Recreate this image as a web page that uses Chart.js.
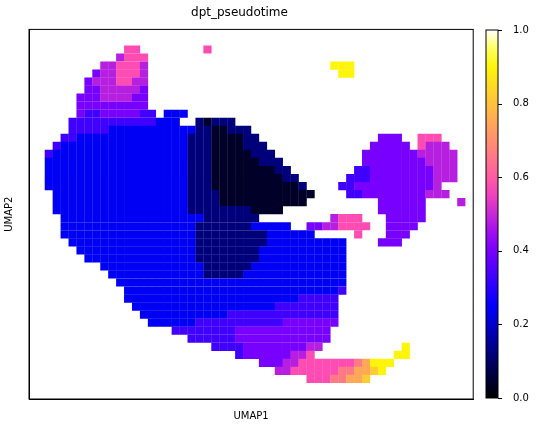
<!DOCTYPE html>
<html>
<head>
<meta charset="utf-8">
<script src="https://cdn.jsdelivr.net/npm/chart.js@4"></script>
<style>
  body { margin: 0; background: #fff; }
  #main { position: absolute; left: 0; top: 0; width: 479px; height: 429px; }
  #bar { position: absolute; left: 476px; top: 0; width: 64px; height: 429px; }
</style>
</head>
<body>
<div id="main"><canvas id="umap"></canvas></div>
<div id="bar"><canvas id="cbar"></canvas></div>
<script>
// Each row: [startColumn, string of pseudotime codes]
const gridCols = 56;
const gridRows = 46;
const codeValues = { '0': 0.04, '1': 0.12, '2': 0.24, '3': 0.33, '4': 0.40, '5': 0.48,
                     '6': 0.57, '7': 0.66, '8': 0.75, '9': 0.82, 'Y': 0.90 };
const rowSegments = [
  [], [],
  [[12, "66"], [22, "6"]],
  [[11, "5666"]],
  [[9, "556665"], [38, "YYY"]],
  [[8, "4556665"], [39, "YY"]],
  [[7, "45556655"]],
  [[7, "44555554"]],
  [[6, "444555544"]],
  [[6, "444444444"]],
  [[6, "4334444433"], [17, "222"]],
  [[5, "33333333333"], [16, "222"], [21, "10111"]],
  [[5, "3333322222222222"], [21, "1100111"]],
  [[4, "3322222222222222"], [20, "111000011"], [44, "444"], [49, "666"]],
  [[3, "32222222222222222"], [20, "1110000111"], [43, "44444"], [49, "6555"]],
  [[2, "322222222222222222"], [20, "11100000111"], [42, "4444444"], [49, "55555"]],
  [[2, "222222222222222222"], [20, "111000000111"], [42, "44444444"], [50, "5555"]],
  [[2, "222222222222222222"], [20, "1110000000011"], [41, "3344444444"], [51, "555"]],
  [[2, "222222222222222222"], [20, "11100000000011"], [40, "333444444"], [49, "44555"]],
  [[2, "222222222222222222"], [20, "111000000000001"], [39, "33444444"], [47, "44445"]],
  [[3, "22222222222222222"], [20, "1111000000000000"], [40, "33"], [42, "44444444555"]],
  [[3, "2222222222222222"], [19, "2111100000000000"], [44, "444444"], [54, "5"]],
  [[3, "22222222222222222"], [20, "111111110000"], [44, "444444"]],
  [[4, "222222222222222222"], [22, "1111111"], [38, "5666"], [45, "44444"]],
  [[4, "22222222222222222111111122222"], [35, "44556666"], [45, "4444"]],
  [[4, "22222222222222222111111111222222"], [41, "6"], [45, "444"]],
  [[5, "22222222222222221111111112222222222"], [44, "444"]],
  [[6, "2222222222222221111111122222222222"]],
  [[7, "222222222222221111111122222222222"]],
  [[9, "2222222222222111111222222222222"]],
  [[10, "222222222222111112222222222222"]],
  [[11, "22222222222222222222222222222"]],
  [[12, "2222222222222222222222222223"]],
  [[12, "222222222222222222222233333"]],
  [[13, "22222222222222222233333333"]],
  [[14, "2222222222233333333333333"]],
  [[15, "222222333333333334444444"]],
  [[18, "33333333444444444444"]],
  [[20, "333333444444444444"]],
  [[23, "33334444444455"], [47, "Y"]],
  [[26, "3444444556"], [46, "YY"]],
  [[29, "44455666666678YYY"]],
  [[31, "5566666677889Y"]],
  [[35, "66677889"]],
  [], []
];
const colorTicks = [0.0, 0.2, 0.4, 0.6, 0.8, 1.0];

// matplotlib gnuplot2 colormap
function gnuplot2(v) {
  const clip = t => Math.max(0, Math.min(1, t));
  const r = clip(v / 0.32 - 0.78125);
  const g = clip(2 * v - 0.84);
  const b = clip(v < 0.25 ? 4 * v : (v < 0.92 ? -2 * v + 1.84 : v / 0.08 - 11.5));
  return `rgb(${Math.round(r * 255)},${Math.round(g * 255)},${Math.round(b * 255)})`;
}

const points = [];
const colors = [];
rowSegments.forEach((segs, row) => {
  segs.forEach(([start, codes]) => {
    [...codes].forEach((ch, i) => {
      if (!(ch in codeValues)) return;
      points.push({ x: start + i + 0.5, y: row + 0.5 });
      colors.push(gnuplot2(codeValues[ch]));
    });
  });
});

const font = { family: 'DejaVu Sans', size: 10 };

new Chart(document.getElementById('umap'), {
  type: 'scatter',
  data: {
    datasets: [{
      data: points,
      pointBackgroundColor: colors,
      pointBorderWidth: 0,
      pointStyle: 'rect',
      pointRadius: 5.8,
      pointHoverRadius: 5.8
    }]
  },
  options: {
    responsive: true,
    maintainAspectRatio: false,
    animation: false,
    layout: { padding: { left: 0, right: 0, top: 0, bottom: 0 } },
    plugins: {
      legend: { display: false },
      tooltip: { enabled: false },
      title: {
        display: true, text: 'dpt_pseudotime', color: '#000',
        font: { family: 'DejaVu Sans', size: 12, weight: 'normal' },
        padding: { top: 6, bottom: 9 }
      }
    },
    scales: {
      x: {
        type: 'linear', min: 0, max: gridCols,
        grid: { display: false },
        border: { display: true, color: '#000', width: 1 },
        ticks: { display: false },
        title: { display: true, text: 'UMAP1', color: '#000', font, padding: { top: 3, bottom: 7 } }
      },
      y: {
        type: 'linear', min: 0, max: gridRows, reverse: true,
        grid: { display: false },
        border: { display: true, color: '#000', width: 1 },
        ticks: { display: false },
        title: { display: true, text: 'UMAP2', color: '#000', font, padding: { top: 3, bottom: 6 } }
      }
    }
  },
  plugins: [{
    id: 'frame',
    afterDraw(chart) {
      const { ctx, chartArea: a } = chart;
      ctx.save();
      ctx.strokeStyle = '#000';
      ctx.lineWidth = 1;
      ctx.strokeRect(a.left, a.top, a.right - a.left, a.bottom - a.top);
      ctx.restore();
    }
  }]
});

new Chart(document.getElementById('cbar'), {
  type: 'scatter',
  data: { datasets: [{ data: [] }] },
  options: {
    responsive: true,
    maintainAspectRatio: false,
    animation: false,
    layout: { padding: { left: 10, right: 0, top: 30, bottom: 31 } },
    plugins: { legend: { display: false }, tooltip: { enabled: false } },
    scales: {
      x: { display: false, min: 0, max: 1 },
      y: {
        position: 'right', min: 0, max: 1,
        afterBuildTicks: s => { s.ticks = colorTicks.map(v => ({ value: v })); },
        afterFit: s => { s.width = 42; },
        grid: { display: false },
        border: { display: false },
        ticks: { color: '#000', font, callback: v => v.toFixed(1), padding: 7 }
      }
    }
  },
  plugins: [{
    id: 'gradient',
    beforeDatasetsDraw(chart) {
      const { ctx, chartArea: a, scales: { y } } = chart;
      ctx.save();
      const grad = ctx.createLinearGradient(0, y.getPixelForValue(0), 0, y.getPixelForValue(1));
      for (let i = 0; i <= 20; i++) grad.addColorStop(i / 20, gnuplot2(i / 20));
      ctx.fillStyle = grad;
      ctx.fillRect(a.left, a.top, a.right - a.left, a.bottom - a.top);
      ctx.strokeStyle = '#000';
      ctx.lineWidth = 1;
      ctx.strokeRect(a.left, a.top, a.right - a.left, a.bottom - a.top);
      colorTicks.forEach(v => {
        const py = Math.round(y.getPixelForValue(v)) + 0.5;
        ctx.beginPath();
        ctx.moveTo(a.right, py);
        ctx.lineTo(a.right + 4, py);
        ctx.stroke();
      });
      ctx.restore();
    }
  }]
});
</script>
</body>
</html>
